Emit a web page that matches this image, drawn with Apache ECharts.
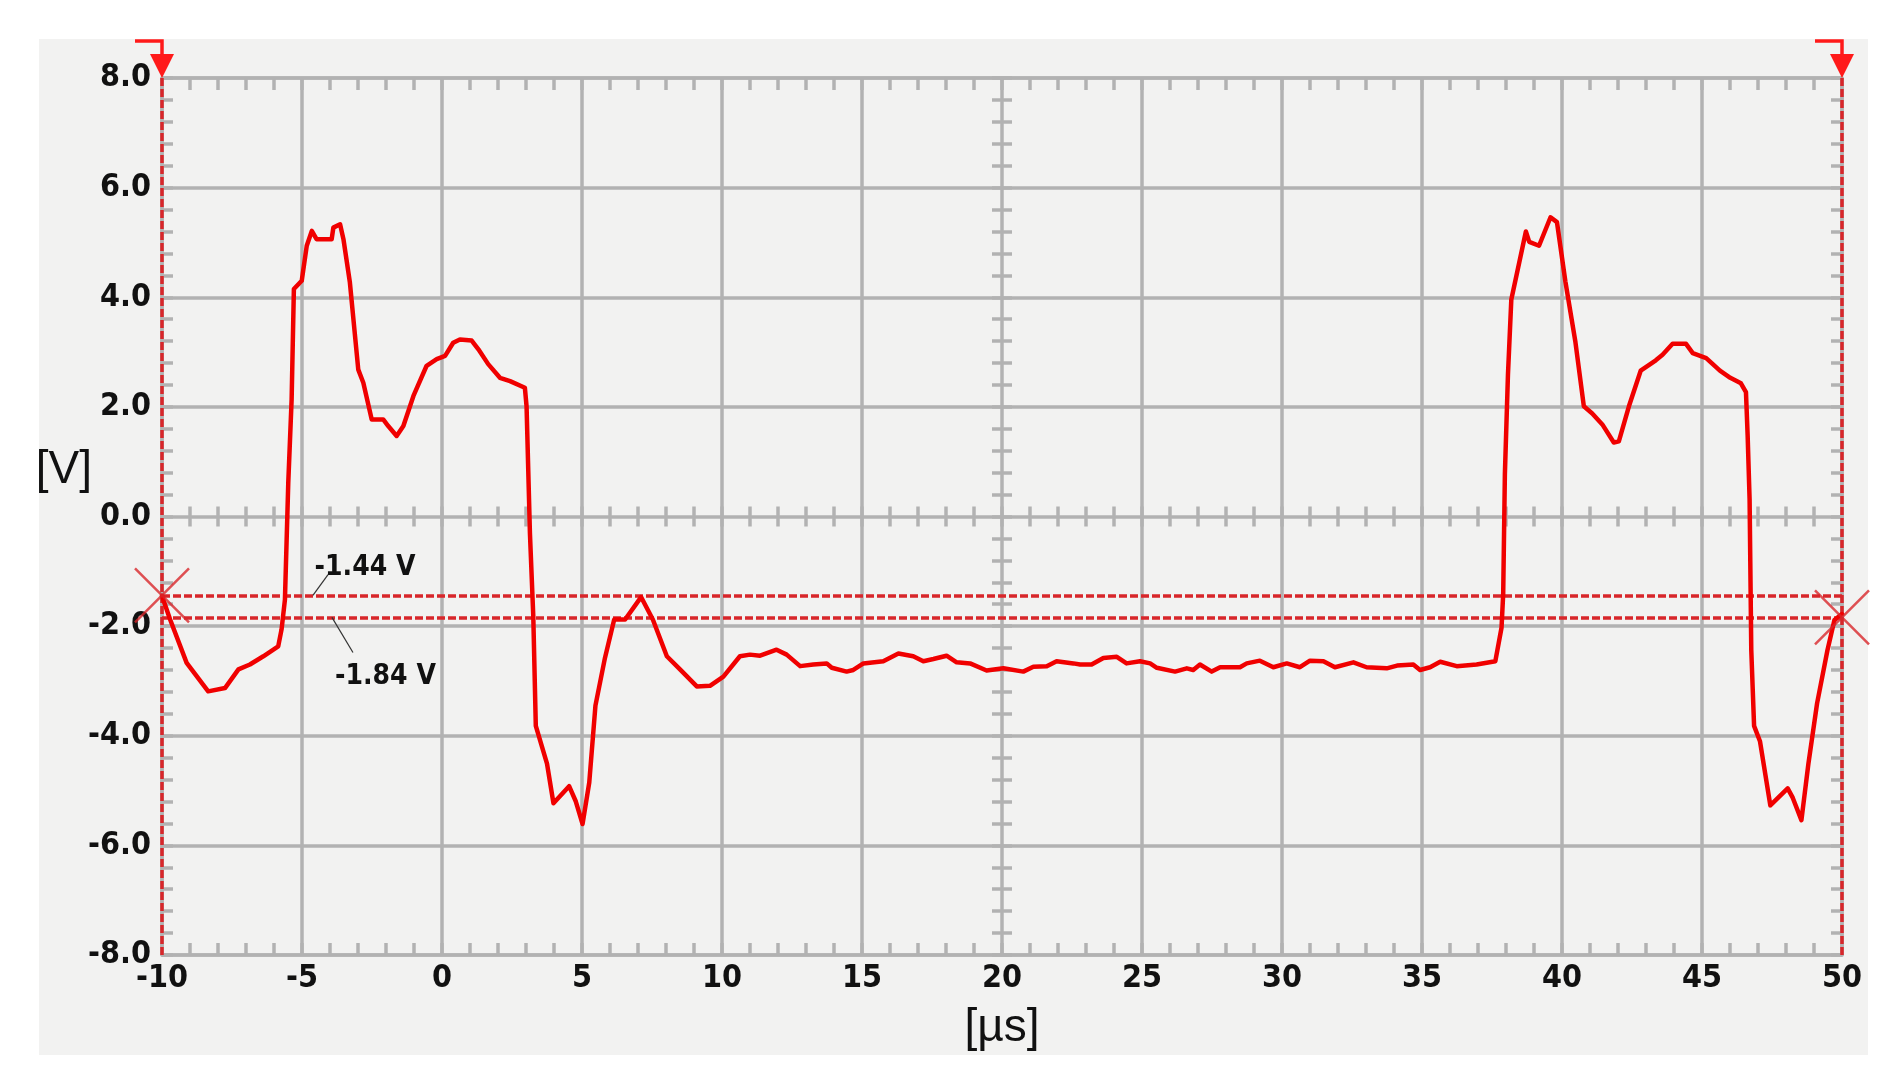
<!DOCTYPE html>
<html>
<head>
<meta charset="utf-8">
<title>Waveform</title>
<script src="https://cdn.jsdelivr.net/npm/echarts@6/dist/echarts.min.js"></script>
<style>
  html, body { margin: 0; padding: 0; background: #ffffff; }
  #panel { position: absolute; left: 39px; top: 39px; width: 1829px; height: 1016px; background: #f2f2f1; }
  #main { position: absolute; left: 0; top: 0; width: 1899px; height: 1091px; }
</style>
</head>
<body>
<div id="panel"></div>
<div id="main"></div>
<script>
// time axis in microseconds, voltage in volts
var timeUs = [
  -10.0, -9.71, -9.12, -8.35, -7.75, -7.27, -6.86, -6.38, -5.85, -5.73, -5.61, -5.49, -5.37, -5.29,
  -5.01, -4.83, -4.65, -4.48, -3.94, -3.88, -3.64, -3.52, -3.29, -2.99, -2.81, -2.51, -2.10, -1.92,
  -1.62, -1.38, -1.02, -0.55, -0.19, 0.11, 0.40, 0.64, 1.06, 1.30, 1.65, 2.07, 2.43, 2.96, 3.02,
  3.14, 3.26, 3.35, 3.75, 3.98, 4.54, 4.78, 5.02, 5.26, 5.48, 5.82, 6.15, 6.54, 7.11, 7.53, 8.03,
  8.50, 9.10, 9.57, 10.05, 10.64, 11.00, 11.36, 11.95, 12.31, 12.79, 13.26, 13.74, 13.92, 14.45,
  14.69, 15.05, 15.76, 16.30, 16.83, 17.19, 17.55, 18.02, 18.38, 18.86, 19.45, 20.05, 20.76, 21.12,
  21.60, 21.95, 22.55, 22.79, 23.20, 23.62, 24.10, 24.45, 24.93, 25.29, 25.53, 26.18, 26.60, 26.83,
  27.07, 27.49, 27.79, 28.50, 28.74, 29.21, 29.69, 30.17, 30.64, 31.00, 31.48, 31.89, 32.55, 33.02,
  33.74, 34.11, 34.69, 34.93, 35.29, 35.65, 36.24, 36.95, 37.62, 37.84, 37.90, 37.96, 38.07, 38.19,
  38.71, 38.83, 39.18, 39.59, 39.82, 40.12, 40.48, 40.78, 41.08, 41.44, 41.85, 42.03, 42.39, 42.81,
  43.35, 43.59, 43.95, 44.43, 44.67, 45.15, 45.64, 46.01, 46.39, 46.57, 46.63, 46.70, 46.76, 46.86,
  47.07, 47.44, 48.06, 48.24, 48.55, 48.80, 49.11, 49.48, 49.73, 50.0
];
var voltage = [
  -1.45, -1.88, -2.67, -3.19, -3.13, -2.79, -2.70, -2.55, -2.37, -2.06, -1.52, 0.62, 2.14, 4.15,
  4.30, 4.94, 5.21, 5.06, 5.06, 5.27, 5.33, 5.06, 4.27, 2.68, 2.44, 1.77, 1.77, 1.65,
  1.47, 1.65, 2.20, 2.75, 2.87, 2.93, 3.17, 3.23, 3.21, 3.05, 2.78, 2.53, 2.47, 2.35, 2.01,
  -0.30, -1.82, -3.82, -4.51, -5.23, -4.92, -5.20, -5.61, -4.85, -3.45, -2.58, -1.88, -1.88, -1.47, -1.88, -2.55,
  -2.79, -3.10, -3.09, -2.92, -2.55, -2.52, -2.54, -2.43, -2.52, -2.73, -2.70, -2.68, -2.76, -2.83,
  -2.80, -2.68, -2.64, -2.50, -2.55, -2.64, -2.60, -2.54, -2.66, -2.68, -2.81, -2.77, -2.83, -2.74,
  -2.73, -2.64, -2.68, -2.70, -2.70, -2.58, -2.56, -2.68, -2.64, -2.68, -2.76, -2.83, -2.77, -2.80,
  -2.70, -2.83, -2.75, -2.75, -2.68, -2.63, -2.75, -2.68, -2.75, -2.63, -2.64, -2.75, -2.66, -2.75,
  -2.77, -2.72, -2.70, -2.80, -2.75, -2.65, -2.73, -2.70, -2.64, -2.03, -1.41, 0.77, 2.59, 3.96,
  5.20, 5.01, 4.94, 5.46, 5.37, 4.29, 3.18, 2.01, 1.88, 1.68, 1.35, 1.37, 2.01, 2.66,
  2.85, 2.95, 3.15, 3.15, 2.98, 2.89, 2.66, 2.53, 2.43, 2.27, 1.48, 0.31, -2.44, -3.82,
  -4.10, -5.27, -4.96, -5.13, -5.54, -4.51, -3.41, -2.44, -1.89, -1.78
];

// cursors
var timeCursors = [-10, 50];
var voltCursors = [-1.44, -1.84];
var voltCursorLabels = ['-1.44 V', '-1.84 V'];

var GRID = '#b2b2b2';
var RED = '#f00000';
var CURSOR = '#d8262a';
var NUM_FONT = '"DejaVu Sans Condensed", "Liberation Sans Narrow", sans-serif';
var NAME_FONT = '"Liberation Sans", Arial, sans-serif';

var chart = echarts.init(document.getElementById('main'));

function tickAxis (extra) {
  var base = {
    type: 'value',
    gridIndex: 0,
    axisLine: { show: false, onZero: false },
    axisTick: { show: true, length: 10, lineStyle: { color: GRID, width: 3.5 } },
    minorTick: { show: true, splitNumber: 5, length: 10, lineStyle: { color: GRID, width: 3.5 } },
    axisLabel: { show: false },
    splitLine: { show: false },
    silent: true
  }
  return Object.assign(base, extra)
}

var xRange = { min: -10, max: 50, interval: 5 };
var yRange = { min: -8, max: 8, interval: 2 };

var option = {
  animation: false,
  backgroundColor: 'transparent',
  grid: { left: 162, top: 78, width: 1680, height: 877, containLabel: false, outerBoundsMode: 'none' },
  xAxis: [
    Object.assign({
      type: 'value',
      position: 'bottom',
      axisLine: { show: true, onZero: false, lineStyle: { color: GRID, width: 3.5 } },
      axisTick: { show: true, inside: true, length: 12, lineStyle: { color: GRID, width: 3.5 } },
      minorTick: { show: true, splitNumber: 5, length: 12, lineStyle: { color: GRID, width: 3.5 } },
      splitLine: { show: true, lineStyle: { color: GRID, width: 3.5 } },
      axisLabel: {
        color: '#111', fontSize: 32, fontWeight: 'bold', fontFamily: NUM_FONT, margin: 8
      },
      name: '[\u00b5s]',
      nameLocation: 'middle',
      nameGap: 50,
      nameTextStyle: { color: '#111', fontSize: 46, fontFamily: NAME_FONT }
    }, xRange),
    tickAxis(Object.assign({ position: 'top', axisLine: { show: true, onZero: false, lineStyle: { color: GRID, width: 3.5 } },
      axisTick: { show: true, inside: true, length: 12, lineStyle: { color: GRID, width: 3.5 } },
      minorTick: { show: true, splitNumber: 5, length: 12, lineStyle: { color: GRID, width: 3.5 } } }, xRange)),
    tickAxis(Object.assign({ position: 'bottom', offset: -438.5 }, xRange)),
    tickAxis(Object.assign({ position: 'bottom', offset: -438.5,
      axisTick: { show: true, inside: true, length: 10, lineStyle: { color: GRID, width: 3.5 } } }, xRange))
  ],
  yAxis: [
    Object.assign({
      type: 'value',
      position: 'left',
      axisLine: { show: true, onZero: false, lineStyle: { color: GRID, width: 3.5 } },
      axisTick: { show: true, inside: true, length: 11, lineStyle: { color: GRID, width: 3.5 } },
      minorTick: { show: true, splitNumber: 5, length: 11, lineStyle: { color: GRID, width: 3.5 } },
      splitLine: { show: true, lineStyle: { color: GRID, width: 3.5 } },
      axisLabel: {
        color: '#111', fontSize: 32, fontWeight: 'bold', fontFamily: NUM_FONT, margin: 11,
        formatter: function (v) { return v.toFixed(1) }
      }
    }, yRange),
    tickAxis(Object.assign({ position: 'right', axisLine: { show: true, onZero: false, lineStyle: { color: GRID, width: 3.5 } },
      axisTick: { show: true, inside: true, length: 11, lineStyle: { color: GRID, width: 3.5 } },
      minorTick: { show: true, splitNumber: 5, length: 11, lineStyle: { color: GRID, width: 3.5 } } }, yRange)),
    tickAxis(Object.assign({ position: 'left', offset: -840 }, yRange)),
    tickAxis(Object.assign({ position: 'left', offset: -840,
      axisTick: { show: true, inside: true, length: 10, lineStyle: { color: GRID, width: 3.5 } } }, yRange))
  ],
  series: [
    {
      name: 'signal',
      type: 'line',
      xAxisIndex: 0,
      yAxisIndex: 0,
      showSymbol: false,
      symbol: 'none',
      z: 5,
      lineStyle: { color: RED, width: 4.5, join: 'round', cap: 'round' },
      data: timeUs.map(function (t, i) { return [t, voltage[i]] }),
      markLine: {
        silent: true,
        symbol: 'none',
        z: 4,
        label: { show: false },
        lineStyle: { color: CURSOR, width: 3.5, type: [8, 3] },
        data: timeCursors.map(function (t) { return { xAxis: t } })
          .concat(voltCursors.map(function (v) { return { yAxis: v } }))
      }
    },
    {
      name: 'cursor cross',
      type: 'scatter',
      xAxisIndex: 0,
      yAxisIndex: 0,
      clip: false,
      z: 6,
      symbol: 'path://M0,0L10,10M10,0L0,10',
      symbolSize: 54,
      itemStyle: { color: 'none', borderColor: CURSOR, borderWidth: 2.5 },
      data: [[timeCursors[0], voltCursors[0]], [timeCursors[1], voltCursors[1]]]
    }
  ]
};

chart.setOption(option);

// cursor flags, triangles, value labels and their leader lines
function px (t, v) { return chart.convertToPixel({ xAxisIndex: 0, yAxisIndex: 0 }, [t, v]) }
var graphics = [];
timeCursors.forEach(function (t) {
  var p = px(t, 8);
  graphics.push({
    type: 'polyline', silent: true, z: 20,
    shape: { points: [[p[0] - 27, p[1] - 37], [p[0], p[1] - 37], [p[0], p[1] - 20]] },
    style: { stroke: '#ff1a1a', lineWidth: 3.5, fill: null }
  });
  graphics.push({
    type: 'polygon', silent: true, z: 20,
    shape: { points: [[p[0] - 12, p[1] - 24], [p[0] + 12, p[1] - 24], [p[0], p[1]]] },
    style: { fill: '#ff1a1a' }
  });
});
// label anchors in data coordinates: [text t, text v, leader from t, v, to t, v]
var labelPos = [
  [-4.55, -0.93, -4.07, -1.06, -4.61, -1.44],
  [-3.82, -2.92, -3.93, -1.84, -3.18, -2.48]
];
labelPos.forEach(function (a, i) {
  var tp = px(a[0], a[1]);
  var l0 = px(a[2], a[3]);
  var l1 = px(a[4], a[5]);
  graphics.push({
    type: 'line', silent: true, z: 20,
    shape: { x1: l0[0], y1: l0[1], x2: l1[0], y2: l1[1] },
    style: { stroke: '#333', lineWidth: 1.2 }
  });
  graphics.push({
    type: 'text', silent: true, z: 21,
    x: tp[0], y: tp[1],
    style: { text: voltCursorLabels[i], fill: '#111', font: 'bold 28px ' + NUM_FONT, textAlign: 'left', textVerticalAlign: 'middle' }
  });
});
// y axis unit, sitting a little above the zero line like the scope screenshot
var vp = px(-10, 0.84);
graphics.push({
  type: 'text', silent: true, z: 21,
  x: vp[0] - 70, y: vp[1],
  style: { text: '[V]', fill: '#111', font: '46px ' + NAME_FONT, textAlign: 'right', textVerticalAlign: 'middle' }
});
chart.setOption({ graphic: graphics });
</script>
</body>
</html>
